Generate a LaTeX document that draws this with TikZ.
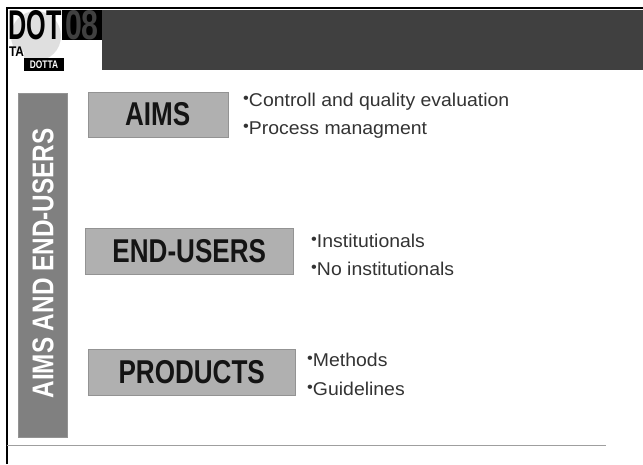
\documentclass[tikz,border=0pt]{standalone}
\usepackage{fontspec}
\setmainfont{Liberation Sans}
\definecolor{banner}{gray}{0.25}
\definecolor{side}{gray}{0.5}
\definecolor{labelbox}{gray}{0.69}
\definecolor{ink}{gray}{0.08}
\definecolor{listink}{gray}{0.2}
\tikzset{
  headbox/.style={fill=labelbox,draw=gray!85,line width=0.5pt,inner sep=0pt,anchor=north west},
  headtext/.style={font=\bfseries\fontsize{33}{33}\selectfont,text=ink,inner sep=0pt,xscale=0.79,transform shape},
  bullet/.style={font=\fontsize{18.5}{20}\selectfont,text=listink,inner sep=0pt,anchor=west,xscale=1.05,transform shape},
  logo/.style={font=\bfseries,inner sep=0pt,transform shape,text depth=0pt}
}
\newcommand{\hb}{\raisebox{3pt}{\scalebox{0.85}{\textbullet}}}
\begin{document}
\begin{tikzpicture}[x=1pt,y=-1pt]
\useasboundingbox (0,0) rectangle (643,464);
\fill[white] (0,0) rectangle (643,464);
% frame
\coordinate (frameTL) at (6.5,8);
\coordinate (frameTR) at (643,8);
\coordinate (frameBL) at (6.5,464);
\draw[black,line width=2pt] (frameBL) -- (frameTL) -- (frameTR);
% banner and logo
\fill[banner] (102,10) rectangle (643,70);
\fill[black] (62,10) rectangle (102,40);
\fill[gray!25] (36,36) circle (25);
\fill[white] (8,52) rectangle (24,72);
\fill[black] (24,57.5) rectangle (64,71);
\node[logo,text=black,anchor=center,font=\bfseries\fontsize{40}{40}\selectfont,text height=28.6pt,xscale=0.63,yscale=1.04] (dot) at (35,25) {DOT};
\node[logo,text=banner,anchor=center,font=\bfseries\fontsize{40}{40}\selectfont,text height=28.6pt,xscale=0.76,yscale=1.04] (yr) at (82,25) {08};
\node[logo,text=black,anchor=center,font=\bfseries\fontsize{14}{14}\selectfont,text height=10pt,xscale=0.85] (ta) at (16.5,51) {TA};
\node[logo,text=white,anchor=center,font=\bfseries\fontsize{11}{11}\selectfont,text height=8pt,xscale=0.76] (dotta) at (44,64.5) {DOTTA};
% side bar
\node[fill=side,draw=gray!85,line width=0.5pt,minimum width=49pt,minimum height=344pt,inner sep=0pt,anchor=north west] (sidebar) at (17.5,92.5) {};
\node[rotate=90,text=white,font=\bfseries\fontsize{30}{30}\selectfont,inner sep=0pt,xscale=0.81,transform shape] (sidetext) at (43,263.5) {AIMS AND END-USERS};
% boxes
\node[headbox,minimum width=140pt,minimum height=45.5pt] (aims) at (87.5,91.5) {};
\node[headtext] at (aims.center) {AIMS};
\node[headbox,minimum width=208pt,minimum height=46pt] (users) at (85,227.5) {};
\node[headtext] at (users.center) {END-USERS};
\node[headbox,minimum width=207pt,minimum height=46pt] (products) at (88,349) {};
\node[headtext] at (products.center) {PRODUCTS};
% lists
\node[bullet] (a1) at (243,102) {\hb Controll and quality evaluation};
\node[bullet] (a2) at (243,130.5) {\hb Process managment};
\node[bullet] (u1) at (311,241) {\hb Institutionals};
\node[bullet] (u2) at (311,269) {\hb No institutionals};
\node[bullet] (p1) at (307,360) {\hb Methods};
\node[bullet] (p2) at (307,389) {\hb Guidelines};
% rule
\coordinate (ruleL) at (7,445);
\coordinate (ruleR) at (606,445);
\draw[gray!75,line width=1pt] (ruleL) -- (ruleR);
\end{tikzpicture}
\end{document}
